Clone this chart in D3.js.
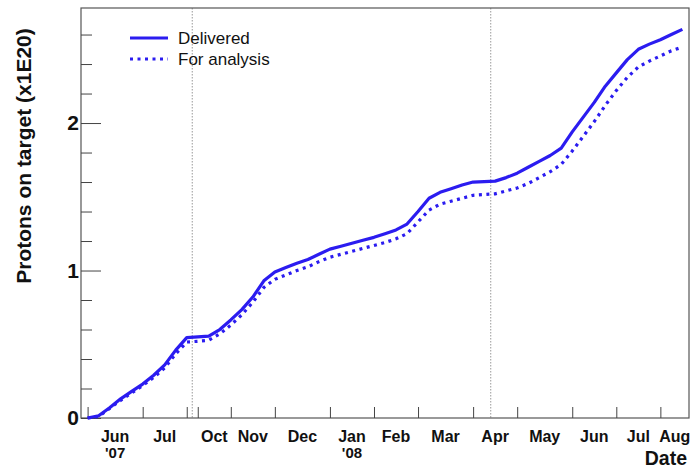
<!DOCTYPE html>
<html><head><meta charset="utf-8">
<script src="https://cdn.jsdelivr.net/npm/d3@7"></script>
<style>body{margin:0;background:#fff}svg{display:block}text{font-family:"Liberation Sans",Arial,Helvetica,sans-serif}</style>
</head><body><div id="chart"></div>
<script>
// Running weeks (Aug–Sep 2007 shutdown collapsed to one week)
const weeks = d3.range(0, 55);
const delivered = [0,0.015,0.07,0.13,0.18,0.23,0.29,0.36,0.46,0.545,0.55,0.555,0.60,0.665,0.735,0.82,0.93,0.99,1.02,1.05,1.075,1.11,1.145,1.165,1.185,1.205,1.225,1.25,1.275,1.315,1.40,1.49,1.53,1.555,1.58,1.60,1.603,1.606,1.63,1.66,1.70,1.74,1.78,1.83,1.94,2.04,2.14,2.25,2.34,2.43,2.50,2.535,2.565,2.60,2.635];
const forAnalysis = [0,0.01,0.065,0.12,0.17,0.22,0.275,0.34,0.435,0.515,0.52,0.527,0.57,0.63,0.70,0.785,0.885,0.94,0.97,1.0,1.025,1.06,1.09,1.11,1.13,1.15,1.17,1.19,1.215,1.25,1.33,1.41,1.45,1.47,1.49,1.51,1.515,1.52,1.54,1.56,1.59,1.63,1.67,1.72,1.81,1.91,2.01,2.12,2.22,2.31,2.38,2.42,2.455,2.49,2.515];
const monthTicks = [0,5,9,10,13,17,22,26,30,35,39,44,48,52];
const monthLabelPos = [2.5,7,11.5,15,19.5,24,28,32.5,37,41.5,46,50,53.3];
const monthLabels = ["Jun","Jul","Oct","Nov","Dec","Jan","Feb","Mar","Apr","May","Jun","Jul","Aug"];
const yearLabels = ["'07","","","","","'08","","","","","","",""];
const modeChanges = [9.5, 36.6];
const yMajor = [0,1,2];
const yMinor = [0.2,0.4,0.6,0.8,1.2,1.4,1.6,1.8,2.2,2.4,2.6];
const seriesNames = ["Delivered","For analysis"];

const W = 698, H = 469;
const m = {l:81, r:9, t:8, b:51};
const blue = "#2b1cf0";
const svg = d3.select("#chart").append("svg").attr("width",W).attr("height",H);
svg.append("rect").attr("width",W).attr("height",H).attr("fill","#fff");

const x = d3.scaleLinear().domain([-0.6, 54.6]).range([m.l, W-m.r]);
const y = d3.scaleLinear().domain([0, 2.78]).range([H-m.b, m.t]);

// mode change lines
svg.selectAll(".mode").data(modeChanges).join("line")
  .attr("x1",d=>x(d)).attr("x2",d=>x(d)).attr("y1",m.t).attr("y2",H-m.b)
  .attr("stroke","#999").attr("stroke-width",1).attr("stroke-dasharray","1.5,1.5");

// frame
svg.append("rect").attr("x",m.l).attr("y",m.t).attr("width",W-m.l-m.r).attr("height",H-m.t-m.b)
  .attr("fill","none").attr("stroke","#555").attr("stroke-width",1.2);

// y axis
const yAxMaj = d3.axisRight(y).tickValues(yMajor).tickSize(20).tickFormat("");
const yg = svg.append("g").attr("transform",`translate(${m.l},0)`).call(yAxMaj);
yg.select(".domain").remove();
yg.selectAll("line").attr("stroke","#444");
const yAxMin = d3.axisRight(y).tickValues(yMinor).tickSize(11).tickFormat("");
const yg2 = svg.append("g").attr("transform",`translate(${m.l},0)`).call(yAxMin);
yg2.select(".domain").remove();
yg2.selectAll("line").attr("stroke","#444");
svg.selectAll(".ylab").data(yMajor).join("text")
  .attr("x",m.l-2).attr("y",d=>y(d)+7).attr("text-anchor","end")
  .attr("font-size",21).attr("font-weight","bold").attr("fill","#111").text(d=>d);

// x axis ticks
const xAx = d3.axisTop(x).tickValues(monthTicks).tickSize(11).tickFormat("");
const xg = svg.append("g").attr("transform",`translate(0,${H-m.b})`).call(xAx);
xg.select(".domain").remove();
xg.selectAll("line").attr("stroke","#444");
svg.selectAll(".xlab").data(monthLabelPos).join("text")
  .attr("text-anchor","middle").attr("font-size",16).attr("font-weight","bold").attr("fill","#111")
  .attr("x",d=>x(d)).attr("y",H-m.b+24).text((d,i)=>monthLabels[i]);
svg.selectAll(".yrlab").data(monthLabelPos.filter((d,i)=>yearLabels[i])).join("text")
  .attr("text-anchor","middle").attr("font-size",15).attr("font-weight","bold").attr("fill","#111")
  .attr("x",d=>x(d)).attr("y",H-m.b+40).text((d,i)=>yearLabels.filter(s=>s)[i]);

// titles
svg.append("text").attr("x",W-11).attr("y",465).attr("text-anchor","end")
  .attr("font-size",19.5).attr("font-weight","bold").attr("fill","#111").text("Date");
svg.append("text").attr("transform",`translate(31,${156}) rotate(-90)`).attr("text-anchor","middle")
  .attr("font-size",21).attr("font-weight","bold").attr("fill","#111").text("Protons on target (x1E20)");

// lines
const line = d3.line().x((d,i)=>x(weeks[i])).y(d=>y(d));
svg.append("path").datum(delivered).attr("d",line).attr("fill","none")
  .attr("stroke",blue).attr("stroke-width",3.2).attr("stroke-linejoin","round");
svg.append("path").datum(forAnalysis).attr("d",line).attr("fill","none")
  .attr("stroke",blue).attr("stroke-width",3.2).attr("stroke-dasharray","3,4.5");

// legend
const lg = svg.append("g");
const styles = [null, "3,4.5"];
seriesNames.forEach((n,i)=>{
  const yy = 38 + i*21;
  lg.append("line").attr("x1",130).attr("x2",168).attr("y1",yy).attr("y2",yy)
    .attr("stroke",blue).attr("stroke-width",3.2).attr("stroke-dasharray",styles[i]);
  lg.append("text").attr("x",178).attr("y",yy+6).attr("font-size",17).attr("fill","#111").text(n);
});
</script></body></html>
